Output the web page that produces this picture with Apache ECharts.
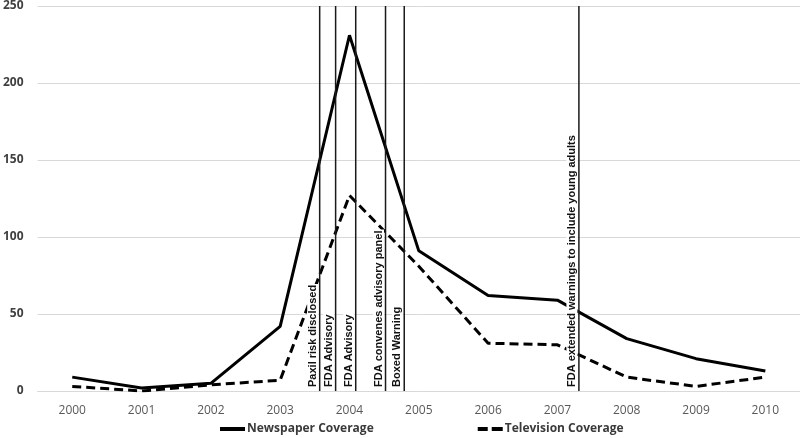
<!DOCTYPE html>
<html>
<head>
<meta charset="utf-8">
<script src="https://cdn.jsdelivr.net/npm/echarts@6/dist/echarts.min.js"></script>
<style>html,body{margin:0;padding:0;background:#fff}#c{width:800px;height:438px}</style>
</head>
<body>
<div id="c"></div>
<script>
var years = ['2000','2001','2002','2003','2004','2005','2006','2007','2008','2009','2010'];
var newspaper = [9, 2, 5, 42, 231, 91, 62, 59, 34, 21, 13];
var television = [3, 0, 4, 7, 127, 81, 31, 30, 9, 3, 9];
var eventYears = [2003.57, 2003.80, 2004.09, 2004.52, 2004.79, 2007.31];
var eventLabels = ['Paxil risk disclosed', 'FDA Advisory', 'FDA Advisory', 'FDA convenes advisory panel', 'Boxed Warning', 'FDA extended warnings to include young adults'];
var yTicks = {min: 0, max: 250, interval: 50};

var chart = echarts.init(document.getElementById('c'));
var eventData = eventYears.map(function (v, i) { return [v, i]; });
chart.setOption({
  animation: false,
  backgroundColor: '#fff',
  grid: {left: 33, right: 0, top: 4, bottom: 47, containLabel: false},
  legend: {
    bottom: -2, left: 215, itemGap: 104, itemWidth: 25, itemHeight: 4,
    textStyle: {color: '#3a3a3a', fontSize: 12, fontWeight: 'bold', fontFamily: 'Open Sans', padding: [0, 0, 0, -3]},
    data: [
      {name: 'Newspaper Coverage', icon: 'path://M0,0 L25,0 L25,4 L0,4 Z'},
      {name: 'Television Coverage', icon: 'path://M0,0 L10,0 L10,4 L0,4 Z M14,0 L25,0 L25,4 L14,4 Z'}
    ]
  },
  xAxis: [{
    type: 'category', data: years, boundaryGap: true,
    axisTick: {show: false},
    axisLine: {lineStyle: {color: '#d9d9d9'}},
    axisLabel: {color: '#595959', fontSize: 12, margin: 14, fontFamily: 'Open Sans'}
  }, {
    type: 'value', min: 1999.5, max: 2010.5, show: false,
    axisLabel: {show: false}, splitLine: {show: false}
  }],
  yAxis: {
    type: 'value', min: yTicks.min, max: yTicks.max, interval: yTicks.interval,
    axisLine: {show: false}, axisTick: {show: false},
    axisLabel: {color: '#404040', fontSize: 12, fontWeight: 'bold', margin: 14, fontFamily: 'Open Sans'},
    splitLine: {lineStyle: {color: '#d9d9d9', width: 1}}
  },
  series: [{
    name: 'Newspaper Coverage', type: 'line', data: newspaper, xAxisIndex: 0,
    symbol: 'none', z: 3,
    lineStyle: {color: '#000', width: 3},
    itemStyle: {color: '#000'}
  }, {
    name: 'Television Coverage', type: 'line', data: television, xAxisIndex: 0,
    symbol: 'none', z: 3,
    lineStyle: {color: '#000', width: 3, type: [9, 5]},
    itemStyle: {color: '#000'}
  }, {
    type: 'custom', xAxisIndex: 1, z: 5, data: eventData,
    renderItem: function (params, api) {
      var x = api.value(0);
      var top = api.coord([x, yTicks.max]);
      var bot = api.coord([x, 0]);
      return {
        type: 'group',
        children: [{
          type: 'line',
          shape: {x1: top[0], y1: top[1], x2: bot[0], y2: bot[1]},
          style: {stroke: '#1a1a1a', lineWidth: 1.5}
        }, {
          type: 'text',
          x: bot[0] - 7, y: bot[1] - 3,
          rotation: Math.PI / 2,
          style: {
            text: eventLabels[params.dataIndex],
            font: 'bold 11px "Liberation Sans Narrow", "Liberation Sans"',
            fill: '#111',
            align: 'left', verticalAlign: 'middle',
            backgroundColor: '#fff', padding: [0, 1]
          }
        }]
      };
    }
  }]
});
</script>
</body>
</html>
